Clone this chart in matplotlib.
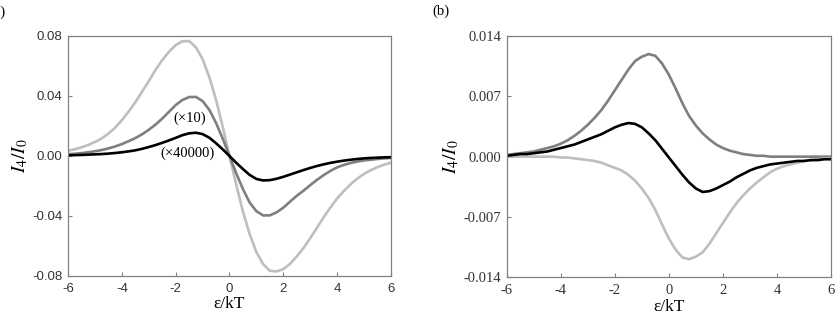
import matplotlib
matplotlib.use("Agg")
import matplotlib.pyplot as plt
import numpy as np

plt.rcParams['mathtext.fontset'] = 'stix'

# sampled energy grid (epsilon/kT)
eps = np.arange(-6, 6.25, 0.25)

# panel (a)
a_light = [0.0035, 0.0045, 0.0058, 0.0074, 0.0094, 0.0118, 0.0150, 0.0190, 0.0240, 0.0297, 0.0360, 0.0430,
           0.0500, 0.0575, 0.0640, 0.0695, 0.0740, 0.0765, 0.0766, 0.0725, 0.0645, 0.0525, 0.0375, 0.0193,
           0.0,
           -0.019, -0.037, -0.052, -0.064, -0.072, -0.0765, -0.077, -0.0755, -0.072, -0.067, -0.0615, -0.055,
           -0.048, -0.041, -0.0345, -0.0285, -0.0235, -0.019, -0.0152, -0.012, -0.0095, -0.0075, -0.0058, -0.0045]
a_dark = [0.0012, 0.0015, 0.0019, 0.0025, 0.0032, 0.0040, 0.0051, 0.0064, 0.0080, 0.0099, 0.0120, 0.0145,
          0.0175, 0.0210, 0.0250, 0.0295, 0.0340, 0.0374, 0.0393, 0.0394, 0.0366, 0.0308, 0.0220, 0.0115,
          0.0,
          -0.0115, -0.0220, -0.0310, -0.0368, -0.0396, -0.0396, -0.0376, -0.0345, -0.0305, -0.0266, -0.0232, -0.0195,
          -0.0160, -0.0128, -0.0100, -0.0076, -0.0060, -0.0047, -0.0037, -0.0030, -0.0025, -0.0020, -0.0016, -0.0013]
a_black = [0.0005, 0.0006, 0.0007, 0.0009, 0.0011, 0.0013, 0.0016, 0.0020, 0.0025, 0.0031, 0.0038, 0.0048,
           0.0060, 0.0073, 0.0088, 0.0104, 0.0121, 0.0139, 0.0151, 0.0155, 0.0146, 0.0122, 0.0085, 0.0044,
           0.0,
           -0.0045, -0.0087, -0.0126, -0.0153, -0.0163, -0.0161, -0.0152, -0.0139, -0.0124, -0.0109, -0.0094, -0.0080,
           -0.0067, -0.0056, -0.0046, -0.0038, -0.0031, -0.0025, -0.0020, -0.0016, -0.0013, -0.0011, -0.0009, -0.0008]

# panel (b)
b_dark = [0.0002, 0.0003, 0.0004, 0.0005, 0.0006, 0.0008, 0.0010, 0.0012, 0.0015, 0.0019, 0.0024, 0.0030,
          0.0037, 0.0045, 0.0054, 0.0065, 0.0077, 0.0089, 0.0101, 0.0111, 0.0116, 0.0119, 0.0117, 0.0108,
          0.0095,
          0.0079, 0.0062, 0.0047, 0.0036, 0.0027, 0.0020, 0.0014, 0.0010, 0.0007, 0.0005, 0.0003, 0.0002,
          0.0001, 0.0001, 0.0, 0.0, 0.0, 0.0, 0.0, 0.0, 0.0, 0.0, 0.0, 0.0]
b_light = [0.0, 0.0, 0.0, 0.0, 0.0, 0.0, 0.0, 0.0, -0.0001, -0.0001, -0.0002, -0.0003,
           -0.0004, -0.0005, -0.0007, -0.0010, -0.0013, -0.0016, -0.0021, -0.0028, -0.0037, -0.0048, -0.0062, -0.0079,
           -0.0095,
           -0.0108, -0.0117, -0.0119, -0.0116, -0.0111, -0.0101, -0.0089, -0.0077, -0.0065, -0.0054, -0.0045, -0.0037,
           -0.0030, -0.0024, -0.0018, -0.0014, -0.0011, -0.0009, -0.0007, -0.0005, -0.0004, -0.0003, -0.0002, -0.0002]
b_black = [0.0001, 0.0002, 0.0003, 0.0003, 0.0004, 0.0005, 0.0006, 0.0008, 0.0010, 0.0012, 0.0014, 0.0017,
           0.0020, 0.0023, 0.0026, 0.0030, 0.0034, 0.0037, 0.0039, 0.0038, 0.0034, 0.0027, 0.0019, 0.0009,
           -0.0001,
           -0.0011, -0.0021, -0.0030, -0.0037, -0.0041, -0.0040, -0.0037, -0.0033, -0.0029, -0.0024, -0.0020, -0.0016,
           -0.0013, -0.0011, -0.0009, -0.0008, -0.0007, -0.0006, -0.0005, -0.0005, -0.0004, -0.0004, -0.0003, -0.0003]

a_yticks = [-0.08, -0.04, 0.0, 0.04, 0.08]
b_yticks = [-0.014, -0.007, 0.0, 0.007, 0.014]
xticks = [-6, -4, -2, 0, 2, 4, 6]

c_light = '#bebebe'
c_dark = '#7f7f7f'
c_black = '#000000'
lw = 1.9

fig = plt.figure(figsize=(8.38, 3.2), dpi=100)
ax1 = fig.add_axes([0.0815, 0.1375, 0.3847, 0.75])
ax2 = fig.add_axes([0.6047, 0.1334, 0.387, 0.7541])

ax1.plot(eps, a_light, color=c_light, lw=lw)
ax1.plot(eps, a_dark, color=c_dark, lw=lw)
ax1.plot(eps, a_black, color=c_black, lw=lw)
ax1.text(-1.47, 0.0253, '(×10)', family='Liberation Serif', fontsize=10.5, ha='center', va='center')
ax1.text(-1.58, 0.002, '(×40000)', family='Liberation Serif', fontsize=10.5, ha='center', va='center')

ax2.plot(eps, b_dark, color=c_dark, lw=lw)
ax2.plot(eps, b_light, color=c_light, lw=lw)
ax2.plot(eps, b_black, color=c_black, lw=lw)

for ax, yt, fmt, fam, ls in [(ax1, a_yticks, '%.2f', 'Liberation Sans', 9.5),
                             (ax2, b_yticks, '%.3f', 'Liberation Serif', 10.5)]:
    ax.set_xlim(-6, 6)
    ax.set_ylim(yt[0], yt[-1])
    ax.set_xticks(xticks)
    ax.set_yticks(yt)
    ax.set_xticklabels([str(v) for v in xticks], family=fam)
    ax.set_yticklabels([fmt % v for v in yt], family=fam)
    ax.tick_params(direction='in', length=3, width=0.8, color='#808080',
                   labelsize=ls, labelcolor='#333333')
    ax.tick_params(axis='x', pad=5)
    ax.tick_params(axis='y', pad=4)
    for s in ax.spines.values():
        s.set_color('#808080')
        s.set_linewidth(0.9)
    ax.set_xlabel('ε/kT', family='Liberation Serif', fontsize=12.5, labelpad=1)
    ax.set_ylabel('$I_4/I_0$', fontsize=14, labelpad=2)

fig.text(6 / 838, 1 - 12 / 320, '(a)', family='Liberation Serif', fontsize=10.5, ha='right', va='center')
fig.text(432 / 838, 1 - 11 / 320, '(b)', family='Liberation Serif', fontsize=10.5, ha='left', va='center')

fig.savefig('out.png', dpi=100)
